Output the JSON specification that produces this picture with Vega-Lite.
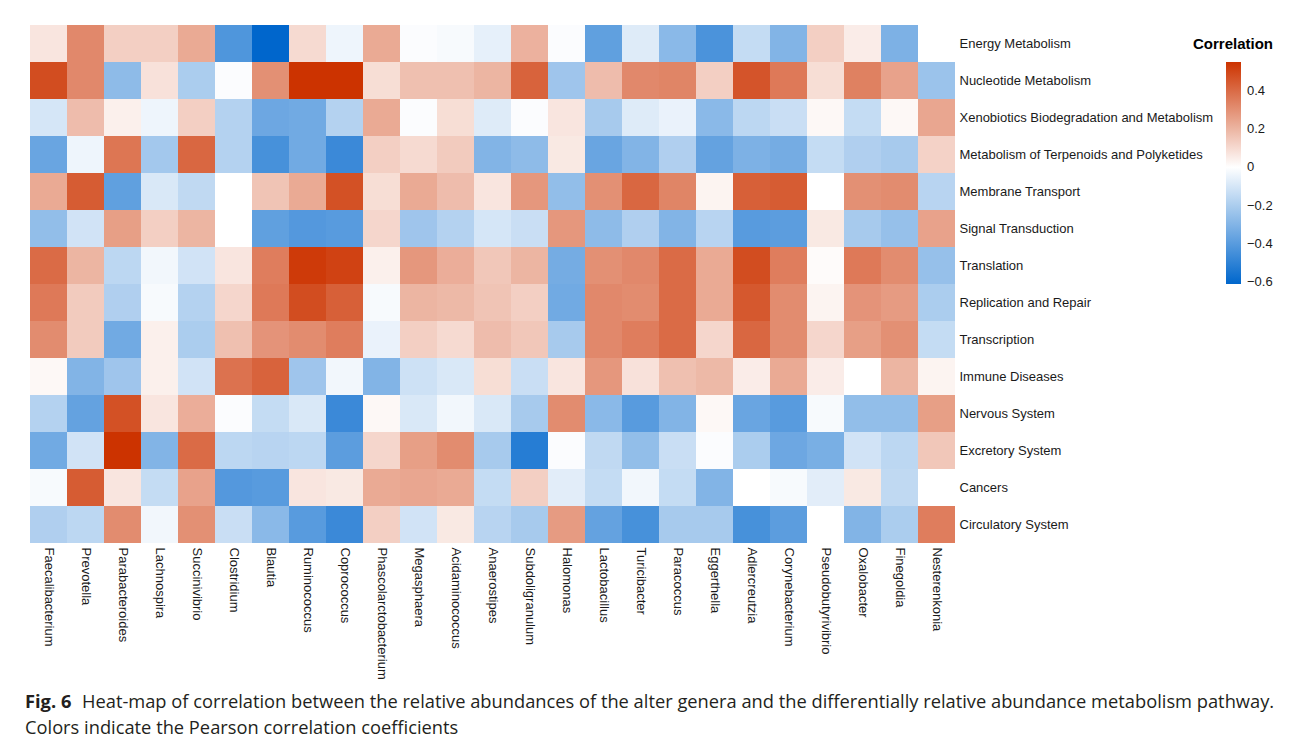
{
  "$schema": "https://vega.github.io/schema/vega-lite/v6.json",
  "width": 925,
  "height": 518,
  "autosize": {"type": "none"},
  "padding": {"left": 30, "top": 25, "right": 340, "bottom": 200},
  "background": "white",
  "title": {
    "text": "Fig. 6",
    "subtitle": ["\u200b\u00a0\u00a0\u00a0\u00a0\u00a0\u00a0\u00a0\u00a0\u00a0\u00a0\u00a0\u00a0Heat-map of correlation between the relative abundances of the alter genera and the differentially relative abundance metabolism pathway.", "Colors indicate the Pearson correlation coefficients"],
    "orient": "bottom",
    "anchor": "start",
    "offset": 15,
    "dx": -5,
    "baseline": "top",
    "font": "Open Sans",
    "fontSize": 18.3,
    "fontWeight": "bold",
    "color": "#231f20",
    "subtitleFont": "Open Sans",
    "subtitleFontSize": 18.3,
    "subtitleFontWeight": "normal",
    "subtitleColor": "#231f20",
    "subtitlePadding": -18.3,
    "subtitleLineHeight": 26
  },
  "datasets": {
    "cells": [
      {"genus":"Faecalibacterium","pathway":"Energy Metabolism","r":0.07},
      {"genus":"Prevotella","pathway":"Energy Metabolism","r":0.32},
      {"genus":"Parabacteroides","pathway":"Energy Metabolism","r":0.13},
      {"genus":"Lachnospira","pathway":"Energy Metabolism","r":0.13},
      {"genus":"Succinivibrio","pathway":"Energy Metabolism","r":0.23},
      {"genus":"Clostridium","pathway":"Energy Metabolism","r":-0.42},
      {"genus":"Blautia","pathway":"Energy Metabolism","r":-0.61},
      {"genus":"Ruminococcus","pathway":"Energy Metabolism","r":0.1},
      {"genus":"Coprococcus","pathway":"Energy Metabolism","r":-0.04},
      {"genus":"Phascolarctobacterium","pathway":"Energy Metabolism","r":0.23},
      {"genus":"Megasphaera","pathway":"Energy Metabolism","r":-0.01},
      {"genus":"Acidaminococcus","pathway":"Energy Metabolism","r":-0.02},
      {"genus":"Anaerostipes","pathway":"Energy Metabolism","r":-0.06},
      {"genus":"Subdoligranulum","pathway":"Energy Metabolism","r":0.21},
      {"genus":"Halomonas","pathway":"Energy Metabolism","r":-0.01},
      {"genus":"Lactobacillus","pathway":"Energy Metabolism","r":-0.38},
      {"genus":"Turicibacter","pathway":"Energy Metabolism","r":-0.08},
      {"genus":"Paracoccus","pathway":"Energy Metabolism","r":-0.28},
      {"genus":"Eggerthella","pathway":"Energy Metabolism","r":-0.43},
      {"genus":"Adlercreutzia","pathway":"Energy Metabolism","r":-0.14},
      {"genus":"Corynebacterium","pathway":"Energy Metabolism","r":-0.3},
      {"genus":"Pseudobutyrivibrio","pathway":"Energy Metabolism","r":0.13},
      {"genus":"Oxalobacter","pathway":"Energy Metabolism","r":0.05},
      {"genus":"Finegoldia","pathway":"Energy Metabolism","r":-0.31},
      {"genus":"Nesterenkonia","pathway":"Energy Metabolism","r":0.0},

      {"genus":"Faecalibacterium","pathway":"Nucleotide Metabolism","r":0.48},
      {"genus":"Prevotella","pathway":"Nucleotide Metabolism","r":0.32},
      {"genus":"Parabacteroides","pathway":"Nucleotide Metabolism","r":-0.27},
      {"genus":"Lachnospira","pathway":"Nucleotide Metabolism","r":0.08},
      {"genus":"Succinivibrio","pathway":"Nucleotide Metabolism","r":-0.2},
      {"genus":"Clostridium","pathway":"Nucleotide Metabolism","r":-0.01},
      {"genus":"Blautia","pathway":"Nucleotide Metabolism","r":0.3},
      {"genus":"Ruminococcus","pathway":"Nucleotide Metabolism","r":0.55},
      {"genus":"Coprococcus","pathway":"Nucleotide Metabolism","r":0.55},
      {"genus":"Phascolarctobacterium","pathway":"Nucleotide Metabolism","r":0.09},
      {"genus":"Megasphaera","pathway":"Nucleotide Metabolism","r":0.17},
      {"genus":"Acidaminococcus","pathway":"Nucleotide Metabolism","r":0.17},
      {"genus":"Anaerostipes","pathway":"Nucleotide Metabolism","r":0.2},
      {"genus":"Subdoligranulum","pathway":"Nucleotide Metabolism","r":0.42},
      {"genus":"Halomonas","pathway":"Nucleotide Metabolism","r":-0.23},
      {"genus":"Lactobacillus","pathway":"Nucleotide Metabolism","r":0.18},
      {"genus":"Turicibacter","pathway":"Nucleotide Metabolism","r":0.32},
      {"genus":"Paracoccus","pathway":"Nucleotide Metabolism","r":0.33},
      {"genus":"Eggerthella","pathway":"Nucleotide Metabolism","r":0.13},
      {"genus":"Adlercreutzia","pathway":"Nucleotide Metabolism","r":0.46},
      {"genus":"Corynebacterium","pathway":"Nucleotide Metabolism","r":0.36},
      {"genus":"Pseudobutyrivibrio","pathway":"Nucleotide Metabolism","r":0.09},
      {"genus":"Oxalobacter","pathway":"Nucleotide Metabolism","r":0.34},
      {"genus":"Finegoldia","pathway":"Nucleotide Metabolism","r":0.25},
      {"genus":"Nesterenkonia","pathway":"Nucleotide Metabolism","r":-0.24},

      {"genus":"Faecalibacterium","pathway":"Xenobiotics Biodegradation and Metabolism","r":-0.1},
      {"genus":"Prevotella","pathway":"Xenobiotics Biodegradation and Metabolism","r":0.18},
      {"genus":"Parabacteroides","pathway":"Xenobiotics Biodegradation and Metabolism","r":0.04},
      {"genus":"Lachnospira","pathway":"Xenobiotics Biodegradation and Metabolism","r":-0.04},
      {"genus":"Succinivibrio","pathway":"Xenobiotics Biodegradation and Metabolism","r":0.13},
      {"genus":"Clostridium","pathway":"Xenobiotics Biodegradation and Metabolism","r":-0.18},
      {"genus":"Blautia","pathway":"Xenobiotics Biodegradation and Metabolism","r":-0.35},
      {"genus":"Ruminococcus","pathway":"Xenobiotics Biodegradation and Metabolism","r":-0.34},
      {"genus":"Coprococcus","pathway":"Xenobiotics Biodegradation and Metabolism","r":-0.18},
      {"genus":"Phascolarctobacterium","pathway":"Xenobiotics Biodegradation and Metabolism","r":0.23},
      {"genus":"Megasphaera","pathway":"Xenobiotics Biodegradation and Metabolism","r":-0.01},
      {"genus":"Acidaminococcus","pathway":"Xenobiotics Biodegradation and Metabolism","r":0.09},
      {"genus":"Anaerostipes","pathway":"Xenobiotics Biodegradation and Metabolism","r":-0.08},
      {"genus":"Subdoligranulum","pathway":"Xenobiotics Biodegradation and Metabolism","r":-0.01},
      {"genus":"Halomonas","pathway":"Xenobiotics Biodegradation and Metabolism","r":0.07},
      {"genus":"Lactobacillus","pathway":"Xenobiotics Biodegradation and Metabolism","r":-0.21},
      {"genus":"Turicibacter","pathway":"Xenobiotics Biodegradation and Metabolism","r":-0.08},
      {"genus":"Paracoccus","pathway":"Xenobiotics Biodegradation and Metabolism","r":-0.05},
      {"genus":"Eggerthella","pathway":"Xenobiotics Biodegradation and Metabolism","r":-0.28},
      {"genus":"Adlercreutzia","pathway":"Xenobiotics Biodegradation and Metabolism","r":-0.16},
      {"genus":"Corynebacterium","pathway":"Xenobiotics Biodegradation and Metabolism","r":-0.13},
      {"genus":"Pseudobutyrivibrio","pathway":"Xenobiotics Biodegradation and Metabolism","r":0.02},
      {"genus":"Oxalobacter","pathway":"Xenobiotics Biodegradation and Metabolism","r":-0.14},
      {"genus":"Finegoldia","pathway":"Xenobiotics Biodegradation and Metabolism","r":0.02},
      {"genus":"Nesterenkonia","pathway":"Xenobiotics Biodegradation and Metabolism","r":0.24},

      {"genus":"Faecalibacterium","pathway":"Metabolism of Terpenoids and Polyketides","r":-0.36},
      {"genus":"Prevotella","pathway":"Metabolism of Terpenoids and Polyketides","r":-0.04},
      {"genus":"Parabacteroides","pathway":"Metabolism of Terpenoids and Polyketides","r":0.37},
      {"genus":"Lachnospira","pathway":"Metabolism of Terpenoids and Polyketides","r":-0.22},
      {"genus":"Succinivibrio","pathway":"Metabolism of Terpenoids and Polyketides","r":0.41},
      {"genus":"Clostridium","pathway":"Metabolism of Terpenoids and Polyketides","r":-0.18},
      {"genus":"Blautia","pathway":"Metabolism of Terpenoids and Polyketides","r":-0.44},
      {"genus":"Ruminococcus","pathway":"Metabolism of Terpenoids and Polyketides","r":-0.34},
      {"genus":"Coprococcus","pathway":"Metabolism of Terpenoids and Polyketides","r":-0.47},
      {"genus":"Phascolarctobacterium","pathway":"Metabolism of Terpenoids and Polyketides","r":0.13},
      {"genus":"Megasphaera","pathway":"Metabolism of Terpenoids and Polyketides","r":0.1},
      {"genus":"Acidaminococcus","pathway":"Metabolism of Terpenoids and Polyketides","r":0.14},
      {"genus":"Anaerostipes","pathway":"Metabolism of Terpenoids and Polyketides","r":-0.3},
      {"genus":"Subdoligranulum","pathway":"Metabolism of Terpenoids and Polyketides","r":-0.27},
      {"genus":"Halomonas","pathway":"Metabolism of Terpenoids and Polyketides","r":0.06},
      {"genus":"Lactobacillus","pathway":"Metabolism of Terpenoids and Polyketides","r":-0.36},
      {"genus":"Turicibacter","pathway":"Metabolism of Terpenoids and Polyketides","r":-0.3},
      {"genus":"Paracoccus","pathway":"Metabolism of Terpenoids and Polyketides","r":-0.19},
      {"genus":"Eggerthella","pathway":"Metabolism of Terpenoids and Polyketides","r":-0.37},
      {"genus":"Adlercreutzia","pathway":"Metabolism of Terpenoids and Polyketides","r":-0.31},
      {"genus":"Corynebacterium","pathway":"Metabolism of Terpenoids and Polyketides","r":-0.33},
      {"genus":"Pseudobutyrivibrio","pathway":"Metabolism of Terpenoids and Polyketides","r":-0.14},
      {"genus":"Oxalobacter","pathway":"Metabolism of Terpenoids and Polyketides","r":-0.19},
      {"genus":"Finegoldia","pathway":"Metabolism of Terpenoids and Polyketides","r":-0.21},
      {"genus":"Nesterenkonia","pathway":"Metabolism of Terpenoids and Polyketides","r":0.12},

      {"genus":"Faecalibacterium","pathway":"Membrane Transport","r":0.23},
      {"genus":"Prevotella","pathway":"Membrane Transport","r":0.44},
      {"genus":"Parabacteroides","pathway":"Membrane Transport","r":-0.38},
      {"genus":"Lachnospira","pathway":"Membrane Transport","r":-0.09},
      {"genus":"Succinivibrio","pathway":"Membrane Transport","r":-0.15},
      {"genus":"Clostridium","pathway":"Membrane Transport","r":0.0},
      {"genus":"Blautia","pathway":"Membrane Transport","r":0.16},
      {"genus":"Ruminococcus","pathway":"Membrane Transport","r":0.23},
      {"genus":"Coprococcus","pathway":"Membrane Transport","r":0.47},
      {"genus":"Phascolarctobacterium","pathway":"Membrane Transport","r":0.09},
      {"genus":"Megasphaera","pathway":"Membrane Transport","r":0.23},
      {"genus":"Acidaminococcus","pathway":"Membrane Transport","r":0.18},
      {"genus":"Anaerostipes","pathway":"Membrane Transport","r":0.07},
      {"genus":"Subdoligranulum","pathway":"Membrane Transport","r":0.28},
      {"genus":"Halomonas","pathway":"Membrane Transport","r":-0.26},
      {"genus":"Lactobacillus","pathway":"Membrane Transport","r":0.3},
      {"genus":"Turicibacter","pathway":"Membrane Transport","r":0.41},
      {"genus":"Paracoccus","pathway":"Membrane Transport","r":0.33},
      {"genus":"Eggerthella","pathway":"Membrane Transport","r":0.03},
      {"genus":"Adlercreutzia","pathway":"Membrane Transport","r":0.43},
      {"genus":"Corynebacterium","pathway":"Membrane Transport","r":0.44},
      {"genus":"Pseudobutyrivibrio","pathway":"Membrane Transport","r":0.0},
      {"genus":"Oxalobacter","pathway":"Membrane Transport","r":0.3},
      {"genus":"Finegoldia","pathway":"Membrane Transport","r":0.31},
      {"genus":"Nesterenkonia","pathway":"Membrane Transport","r":-0.17},

      {"genus":"Faecalibacterium","pathway":"Signal Transduction","r":-0.26},
      {"genus":"Prevotella","pathway":"Signal Transduction","r":-0.11},
      {"genus":"Parabacteroides","pathway":"Signal Transduction","r":0.26},
      {"genus":"Lachnospira","pathway":"Signal Transduction","r":0.13},
      {"genus":"Succinivibrio","pathway":"Signal Transduction","r":0.2},
      {"genus":"Clostridium","pathway":"Signal Transduction","r":0.0},
      {"genus":"Blautia","pathway":"Signal Transduction","r":-0.38},
      {"genus":"Ruminococcus","pathway":"Signal Transduction","r":-0.41},
      {"genus":"Coprococcus","pathway":"Signal Transduction","r":-0.4},
      {"genus":"Phascolarctobacterium","pathway":"Signal Transduction","r":0.11},
      {"genus":"Megasphaera","pathway":"Signal Transduction","r":-0.23},
      {"genus":"Acidaminococcus","pathway":"Signal Transduction","r":-0.18},
      {"genus":"Anaerostipes","pathway":"Signal Transduction","r":-0.1},
      {"genus":"Subdoligranulum","pathway":"Signal Transduction","r":-0.13},
      {"genus":"Halomonas","pathway":"Signal Transduction","r":0.28},
      {"genus":"Lactobacillus","pathway":"Signal Transduction","r":-0.27},
      {"genus":"Turicibacter","pathway":"Signal Transduction","r":-0.19},
      {"genus":"Paracoccus","pathway":"Signal Transduction","r":-0.3},
      {"genus":"Eggerthella","pathway":"Signal Transduction","r":-0.17},
      {"genus":"Adlercreutzia","pathway":"Signal Transduction","r":-0.4},
      {"genus":"Corynebacterium","pathway":"Signal Transduction","r":-0.39},
      {"genus":"Pseudobutyrivibrio","pathway":"Signal Transduction","r":0.06},
      {"genus":"Oxalobacter","pathway":"Signal Transduction","r":-0.21},
      {"genus":"Finegoldia","pathway":"Signal Transduction","r":-0.25},
      {"genus":"Nesterenkonia","pathway":"Signal Transduction","r":0.25},

      {"genus":"Faecalibacterium","pathway":"Translation","r":0.4},
      {"genus":"Prevotella","pathway":"Translation","r":0.2},
      {"genus":"Parabacteroides","pathway":"Translation","r":-0.16},
      {"genus":"Lachnospira","pathway":"Translation","r":-0.03},
      {"genus":"Succinivibrio","pathway":"Translation","r":-0.11},
      {"genus":"Clostridium","pathway":"Translation","r":0.07},
      {"genus":"Blautia","pathway":"Translation","r":0.35},
      {"genus":"Ruminococcus","pathway":"Translation","r":0.53},
      {"genus":"Coprococcus","pathway":"Translation","r":0.51},
      {"genus":"Phascolarctobacterium","pathway":"Translation","r":0.04},
      {"genus":"Megasphaera","pathway":"Translation","r":0.28},
      {"genus":"Acidaminococcus","pathway":"Translation","r":0.22},
      {"genus":"Anaerostipes","pathway":"Translation","r":0.15},
      {"genus":"Subdoligranulum","pathway":"Translation","r":0.2},
      {"genus":"Halomonas","pathway":"Translation","r":-0.33},
      {"genus":"Lactobacillus","pathway":"Translation","r":0.3},
      {"genus":"Turicibacter","pathway":"Translation","r":0.32},
      {"genus":"Paracoccus","pathway":"Translation","r":0.4},
      {"genus":"Eggerthella","pathway":"Translation","r":0.23},
      {"genus":"Adlercreutzia","pathway":"Translation","r":0.48},
      {"genus":"Corynebacterium","pathway":"Translation","r":0.35},
      {"genus":"Pseudobutyrivibrio","pathway":"Translation","r":0.01},
      {"genus":"Oxalobacter","pathway":"Translation","r":0.36},
      {"genus":"Finegoldia","pathway":"Translation","r":0.31},
      {"genus":"Nesterenkonia","pathway":"Translation","r":-0.25},

      {"genus":"Faecalibacterium","pathway":"Replication and Repair","r":0.36},
      {"genus":"Prevotella","pathway":"Replication and Repair","r":0.14},
      {"genus":"Parabacteroides","pathway":"Replication and Repair","r":-0.19},
      {"genus":"Lachnospira","pathway":"Replication and Repair","r":-0.02},
      {"genus":"Succinivibrio","pathway":"Replication and Repair","r":-0.18},
      {"genus":"Clostridium","pathway":"Replication and Repair","r":0.11},
      {"genus":"Blautia","pathway":"Replication and Repair","r":0.36},
      {"genus":"Ruminococcus","pathway":"Replication and Repair","r":0.48},
      {"genus":"Coprococcus","pathway":"Replication and Repair","r":0.43},
      {"genus":"Phascolarctobacterium","pathway":"Replication and Repair","r":-0.02},
      {"genus":"Megasphaera","pathway":"Replication and Repair","r":0.2},
      {"genus":"Acidaminococcus","pathway":"Replication and Repair","r":0.19},
      {"genus":"Anaerostipes","pathway":"Replication and Repair","r":0.16},
      {"genus":"Subdoligranulum","pathway":"Replication and Repair","r":0.13},
      {"genus":"Halomonas","pathway":"Replication and Repair","r":-0.34},
      {"genus":"Lactobacillus","pathway":"Replication and Repair","r":0.32},
      {"genus":"Turicibacter","pathway":"Replication and Repair","r":0.31},
      {"genus":"Paracoccus","pathway":"Replication and Repair","r":0.4},
      {"genus":"Eggerthella","pathway":"Replication and Repair","r":0.23},
      {"genus":"Adlercreutzia","pathway":"Replication and Repair","r":0.45},
      {"genus":"Corynebacterium","pathway":"Replication and Repair","r":0.31},
      {"genus":"Pseudobutyrivibrio","pathway":"Replication and Repair","r":0.03},
      {"genus":"Oxalobacter","pathway":"Replication and Repair","r":0.29},
      {"genus":"Finegoldia","pathway":"Replication and Repair","r":0.27},
      {"genus":"Nesterenkonia","pathway":"Replication and Repair","r":-0.2},

      {"genus":"Faecalibacterium","pathway":"Transcription","r":0.31},
      {"genus":"Prevotella","pathway":"Transcription","r":0.14},
      {"genus":"Parabacteroides","pathway":"Transcription","r":-0.34},
      {"genus":"Lachnospira","pathway":"Transcription","r":0.04},
      {"genus":"Succinivibrio","pathway":"Transcription","r":-0.2},
      {"genus":"Clostridium","pathway":"Transcription","r":0.17},
      {"genus":"Blautia","pathway":"Transcription","r":0.29},
      {"genus":"Ruminococcus","pathway":"Transcription","r":0.31},
      {"genus":"Coprococcus","pathway":"Transcription","r":0.35},
      {"genus":"Phascolarctobacterium","pathway":"Transcription","r":-0.05},
      {"genus":"Megasphaera","pathway":"Transcription","r":0.13},
      {"genus":"Acidaminococcus","pathway":"Transcription","r":0.1},
      {"genus":"Anaerostipes","pathway":"Transcription","r":0.18},
      {"genus":"Subdoligranulum","pathway":"Transcription","r":0.15},
      {"genus":"Halomonas","pathway":"Transcription","r":-0.21},
      {"genus":"Lactobacillus","pathway":"Transcription","r":0.32},
      {"genus":"Turicibacter","pathway":"Transcription","r":0.35},
      {"genus":"Paracoccus","pathway":"Transcription","r":0.4},
      {"genus":"Eggerthella","pathway":"Transcription","r":0.11},
      {"genus":"Adlercreutzia","pathway":"Transcription","r":0.41},
      {"genus":"Corynebacterium","pathway":"Transcription","r":0.31},
      {"genus":"Pseudobutyrivibrio","pathway":"Transcription","r":0.11},
      {"genus":"Oxalobacter","pathway":"Transcription","r":0.26},
      {"genus":"Finegoldia","pathway":"Transcription","r":0.3},
      {"genus":"Nesterenkonia","pathway":"Transcription","r":-0.14},

      {"genus":"Faecalibacterium","pathway":"Immune Diseases","r":0.02},
      {"genus":"Prevotella","pathway":"Immune Diseases","r":-0.3},
      {"genus":"Parabacteroides","pathway":"Immune Diseases","r":-0.23},
      {"genus":"Lachnospira","pathway":"Immune Diseases","r":0.04},
      {"genus":"Succinivibrio","pathway":"Immune Diseases","r":-0.11},
      {"genus":"Clostridium","pathway":"Immune Diseases","r":0.38},
      {"genus":"Blautia","pathway":"Immune Diseases","r":0.42},
      {"genus":"Ruminococcus","pathway":"Immune Diseases","r":-0.23},
      {"genus":"Coprococcus","pathway":"Immune Diseases","r":-0.03},
      {"genus":"Phascolarctobacterium","pathway":"Immune Diseases","r":-0.3},
      {"genus":"Megasphaera","pathway":"Immune Diseases","r":-0.12},
      {"genus":"Acidaminococcus","pathway":"Immune Diseases","r":-0.09},
      {"genus":"Anaerostipes","pathway":"Immune Diseases","r":0.09},
      {"genus":"Subdoligranulum","pathway":"Immune Diseases","r":-0.13},
      {"genus":"Halomonas","pathway":"Immune Diseases","r":0.07},
      {"genus":"Lactobacillus","pathway":"Immune Diseases","r":0.28},
      {"genus":"Turicibacter","pathway":"Immune Diseases","r":0.08},
      {"genus":"Paracoccus","pathway":"Immune Diseases","r":0.17},
      {"genus":"Eggerthella","pathway":"Immune Diseases","r":0.19},
      {"genus":"Adlercreutzia","pathway":"Immune Diseases","r":0.05},
      {"genus":"Corynebacterium","pathway":"Immune Diseases","r":0.23},
      {"genus":"Pseudobutyrivibrio","pathway":"Immune Diseases","r":0.05},
      {"genus":"Oxalobacter","pathway":"Immune Diseases","r":0.0},
      {"genus":"Finegoldia","pathway":"Immune Diseases","r":0.2},
      {"genus":"Nesterenkonia","pathway":"Immune Diseases","r":0.03},

      {"genus":"Faecalibacterium","pathway":"Nervous System","r":-0.18},
      {"genus":"Prevotella","pathway":"Nervous System","r":-0.37},
      {"genus":"Parabacteroides","pathway":"Nervous System","r":0.47},
      {"genus":"Lachnospira","pathway":"Nervous System","r":0.07},
      {"genus":"Succinivibrio","pathway":"Nervous System","r":0.22},
      {"genus":"Clostridium","pathway":"Nervous System","r":-0.01},
      {"genus":"Blautia","pathway":"Nervous System","r":-0.14},
      {"genus":"Ruminococcus","pathway":"Nervous System","r":-0.09},
      {"genus":"Coprococcus","pathway":"Nervous System","r":-0.47},
      {"genus":"Phascolarctobacterium","pathway":"Nervous System","r":0.02},
      {"genus":"Megasphaera","pathway":"Nervous System","r":-0.09},
      {"genus":"Acidaminococcus","pathway":"Nervous System","r":-0.03},
      {"genus":"Anaerostipes","pathway":"Nervous System","r":-0.09},
      {"genus":"Subdoligranulum","pathway":"Nervous System","r":-0.21},
      {"genus":"Halomonas","pathway":"Nervous System","r":0.31},
      {"genus":"Lactobacillus","pathway":"Nervous System","r":-0.28},
      {"genus":"Turicibacter","pathway":"Nervous System","r":-0.4},
      {"genus":"Paracoccus","pathway":"Nervous System","r":-0.3},
      {"genus":"Eggerthella","pathway":"Nervous System","r":0.02},
      {"genus":"Adlercreutzia","pathway":"Nervous System","r":-0.36},
      {"genus":"Corynebacterium","pathway":"Nervous System","r":-0.4},
      {"genus":"Pseudobutyrivibrio","pathway":"Nervous System","r":-0.02},
      {"genus":"Oxalobacter","pathway":"Nervous System","r":-0.26},
      {"genus":"Finegoldia","pathway":"Nervous System","r":-0.26},
      {"genus":"Nesterenkonia","pathway":"Nervous System","r":0.26},

      {"genus":"Faecalibacterium","pathway":"Excretory System","r":-0.34},
      {"genus":"Prevotella","pathway":"Excretory System","r":-0.11},
      {"genus":"Parabacteroides","pathway":"Excretory System","r":0.55},
      {"genus":"Lachnospira","pathway":"Excretory System","r":-0.3},
      {"genus":"Succinivibrio","pathway":"Excretory System","r":0.4},
      {"genus":"Clostridium","pathway":"Excretory System","r":-0.16},
      {"genus":"Blautia","pathway":"Excretory System","r":-0.17},
      {"genus":"Ruminococcus","pathway":"Excretory System","r":-0.16},
      {"genus":"Coprococcus","pathway":"Excretory System","r":-0.39},
      {"genus":"Phascolarctobacterium","pathway":"Excretory System","r":0.11},
      {"genus":"Megasphaera","pathway":"Excretory System","r":0.26},
      {"genus":"Acidaminococcus","pathway":"Excretory System","r":0.31},
      {"genus":"Anaerostipes","pathway":"Excretory System","r":-0.21},
      {"genus":"Subdoligranulum","pathway":"Excretory System","r":-0.52},
      {"genus":"Halomonas","pathway":"Excretory System","r":-0.01},
      {"genus":"Lactobacillus","pathway":"Excretory System","r":-0.15},
      {"genus":"Turicibacter","pathway":"Excretory System","r":-0.26},
      {"genus":"Paracoccus","pathway":"Excretory System","r":-0.13},
      {"genus":"Eggerthella","pathway":"Excretory System","r":-0.01},
      {"genus":"Adlercreutzia","pathway":"Excretory System","r":-0.2},
      {"genus":"Corynebacterium","pathway":"Excretory System","r":-0.35},
      {"genus":"Pseudobutyrivibrio","pathway":"Excretory System","r":-0.32},
      {"genus":"Oxalobacter","pathway":"Excretory System","r":-0.11},
      {"genus":"Finegoldia","pathway":"Excretory System","r":-0.16},
      {"genus":"Nesterenkonia","pathway":"Excretory System","r":0.15},

      {"genus":"Faecalibacterium","pathway":"Cancers","r":-0.02},
      {"genus":"Prevotella","pathway":"Cancers","r":0.44},
      {"genus":"Parabacteroides","pathway":"Cancers","r":0.07},
      {"genus":"Lachnospira","pathway":"Cancers","r":-0.14},
      {"genus":"Succinivibrio","pathway":"Cancers","r":0.25},
      {"genus":"Clostridium","pathway":"Cancers","r":-0.41},
      {"genus":"Blautia","pathway":"Cancers","r":-0.4},
      {"genus":"Ruminococcus","pathway":"Cancers","r":0.07},
      {"genus":"Coprococcus","pathway":"Cancers","r":0.06},
      {"genus":"Phascolarctobacterium","pathway":"Cancers","r":0.23},
      {"genus":"Megasphaera","pathway":"Cancers","r":0.24},
      {"genus":"Acidaminococcus","pathway":"Cancers","r":0.23},
      {"genus":"Anaerostipes","pathway":"Cancers","r":-0.14},
      {"genus":"Subdoligranulum","pathway":"Cancers","r":0.13},
      {"genus":"Halomonas","pathway":"Cancers","r":-0.07},
      {"genus":"Lactobacillus","pathway":"Cancers","r":-0.14},
      {"genus":"Turicibacter","pathway":"Cancers","r":-0.03},
      {"genus":"Paracoccus","pathway":"Cancers","r":-0.14},
      {"genus":"Eggerthella","pathway":"Cancers","r":-0.3},
      {"genus":"Adlercreutzia","pathway":"Cancers","r":0.0},
      {"genus":"Corynebacterium","pathway":"Cancers","r":-0.02},
      {"genus":"Pseudobutyrivibrio","pathway":"Cancers","r":-0.07},
      {"genus":"Oxalobacter","pathway":"Cancers","r":0.06},
      {"genus":"Finegoldia","pathway":"Cancers","r":-0.15},
      {"genus":"Nesterenkonia","pathway":"Cancers","r":0.0},

      {"genus":"Faecalibacterium","pathway":"Circulatory System","r":-0.19},
      {"genus":"Prevotella","pathway":"Circulatory System","r":-0.16},
      {"genus":"Parabacteroides","pathway":"Circulatory System","r":0.31},
      {"genus":"Lachnospira","pathway":"Circulatory System","r":-0.03},
      {"genus":"Succinivibrio","pathway":"Circulatory System","r":0.3},
      {"genus":"Clostridium","pathway":"Circulatory System","r":-0.13},
      {"genus":"Blautia","pathway":"Circulatory System","r":-0.28},
      {"genus":"Ruminococcus","pathway":"Circulatory System","r":-0.4},
      {"genus":"Coprococcus","pathway":"Circulatory System","r":-0.47},
      {"genus":"Phascolarctobacterium","pathway":"Circulatory System","r":0.13},
      {"genus":"Megasphaera","pathway":"Circulatory System","r":-0.11},
      {"genus":"Acidaminococcus","pathway":"Circulatory System","r":0.06},
      {"genus":"Anaerostipes","pathway":"Circulatory System","r":-0.17},
      {"genus":"Subdoligranulum","pathway":"Circulatory System","r":-0.21},
      {"genus":"Halomonas","pathway":"Circulatory System","r":0.27},
      {"genus":"Lactobacillus","pathway":"Circulatory System","r":-0.37},
      {"genus":"Turicibacter","pathway":"Circulatory System","r":-0.44},
      {"genus":"Paracoccus","pathway":"Circulatory System","r":-0.21},
      {"genus":"Eggerthella","pathway":"Circulatory System","r":-0.21},
      {"genus":"Adlercreutzia","pathway":"Circulatory System","r":-0.44},
      {"genus":"Corynebacterium","pathway":"Circulatory System","r":-0.39},
      {"genus":"Pseudobutyrivibrio","pathway":"Circulatory System","r":0.0},
      {"genus":"Oxalobacter","pathway":"Circulatory System","r":-0.3},
      {"genus":"Finegoldia","pathway":"Circulatory System","r":-0.2},
      {"genus":"Nesterenkonia","pathway":"Circulatory System","r":0.35}
    ]
  },
  "data": {"name": "cells"},
  "mark": {"type": "rect"},
  "encoding": {
    "x": {
      "field": "genus",
      "type": "nominal",
      "sort": null,
      "scale": {"paddingInner": 0, "paddingOuter": 0},
      "axis": {
        "orient": "bottom",
        "title": null,
        "labelAngle": 90,
        "labelAlign": "left",
        "labelBaseline": "middle",
        "labelPadding": 4,
        "ticks": false,
        "domain": false,
        "labelFont": "Liberation Sans",
        "labelFontSize": 13,
        "labelColor": "#1a1a1a",
        "labelLimit": 300
      }
    },
    "y": {
      "field": "pathway",
      "type": "nominal",
      "sort": null,
      "scale": {"paddingInner": 0, "paddingOuter": 0},
      "axis": {
        "orient": "right",
        "title": null,
        "labelPadding": 4,
        "ticks": false,
        "domain": false,
        "labelFont": "Liberation Sans",
        "labelFontSize": 13,
        "labelColor": "#1a1a1a",
        "labelLimit": 400
      }
    },
    "color": {
      "field": "r",
      "type": "quantitative",
      "scale": {
        "domain": [-0.61, 0, 0.55],
        "range": ["#0066CC", "#FFFFFF", "#CC3300"],
        "interpolate": "rgb"
      },
      "legend": {
        "title": "Correlation",
        "orient": "none",
        "legendX": 1163,
        "legendY": 12,
        "direction": "vertical",
        "gradientLength": 222,
        "gradientThickness": 15,
        "gradientStrokeWidth": 0,
        "values": [-0.6, -0.4, -0.2, 0, 0.2, 0.4],
        "format": "~g",
        "titleFont": "Liberation Sans",
        "titleFontSize": 15,
        "titleFontWeight": "bold",
        "titleColor": "#000000",
        "titleAnchor": "end",
        "titlePadding": 10,
        "labelFont": "Liberation Sans",
        "labelFontSize": 13,
        "labelColor": "#1a1a1a",
        "labelOffset": 6
      }
    }
  },
  "config": {
    "view": {"stroke": null}
  }
}
